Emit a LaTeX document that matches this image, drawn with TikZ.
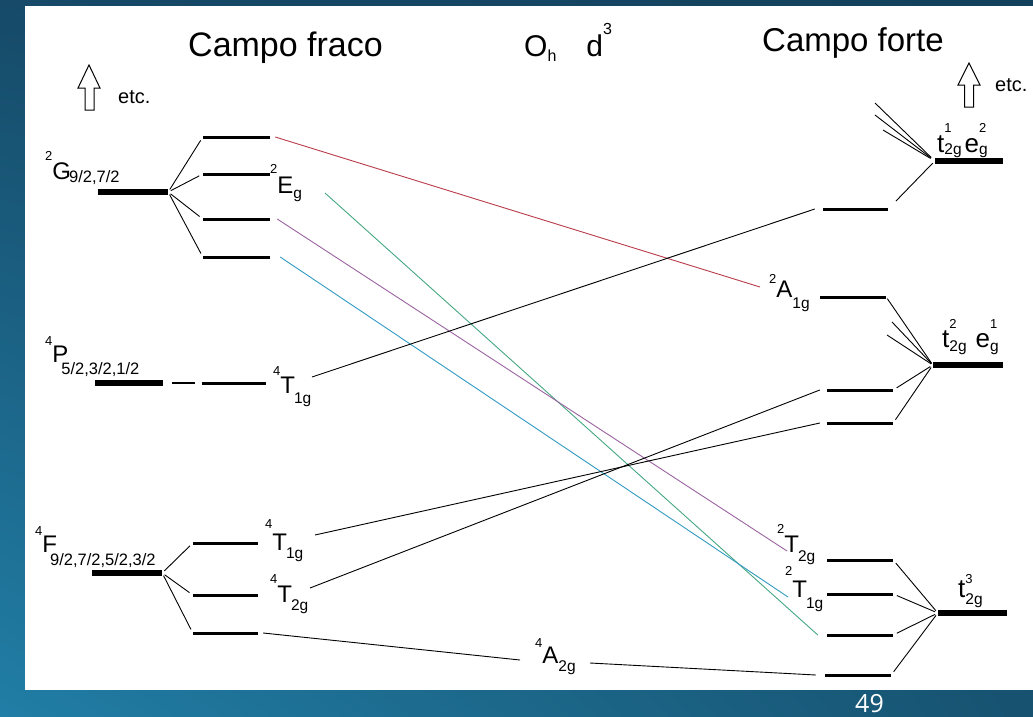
\documentclass[tikz,border=0pt]{standalone}
\usepackage{fontspec}
\usetikzlibrary{shadings}
\setmainfont{Liberation Sans}
\newfontfamily\pagenumfont{Open Sans}

\definecolor{bgA}{RGB}{22,74,104}
\definecolor{bgB}{RGB}{19,64,92}
\definecolor{bgC}{RGB}{33,126,166}
\definecolor{bgD}{RGB}{23,82,112}
\definecolor{corrred}{RGB}{185,60,75}
\definecolor{corrpurple}{RGB}{155,100,160}
\definecolor{corrgreen}{RGB}{70,168,130}
\definecolor{corrcyan}{RGB}{50,155,195}

\newcommand{\supf}{\fontsize{13}{13}\selectfont}
\newcommand{\jsubf}{\fontsize{16.5}{16.5}\selectfont}
\newcommand{\gsubf}{\fontsize{15.5}{15.5}\selectfont}
% term symbol: #1 raise of multiplicity, #2 drop of subscript, #3 multiplicity, #4 letter, #5 subscript, #6 kern
\newcommand{\trm}[6]{\raisebox{#1pt}{\supf #3}#4\kern#6pt\raisebox{-#2pt}{\gsubf #5}}
% free-ion term with J values
\newcommand{\jtrm}[6]{\raisebox{#1pt}{\supf #3}#4\kern#6pt\raisebox{-#2pt}{\jsubf #5}}
% stacked super/subscript for configurations
\newcommand{\stk}[4]{\rlap{\raisebox{#1pt}{\supf #3}}\raisebox{-#2pt}{\gsubf #4}}

\begin{document}
\begin{tikzpicture}[x=1pt,y=-1pt,
  lvl/.style={fill=black, inner sep=0pt, minimum height=3pt, rectangle},
  thk/.style={lvl, minimum height=5.5pt},
  fan/.style={line width=0.9pt},
  corr/.style={line width=0.9pt},
  lab/.style={inner sep=0pt, anchor=base west, font=\fontsize{24}{24}\selectfont},
  cfg/.style={lab, font=\fontsize{26}{26}\selectfont},
  ttl/.style={inner sep=0pt, anchor=base west},
  etcl/.style={inner sep=0pt, anchor=base west, font=\fontsize{20}{20}\selectfont},
  blockarrow/.style={line width=1pt, fill=white}]

\useasboundingbox (0,0) rectangle (1033,717);
% slide frame
\shade[upper left=bgA, upper right=bgB, lower left=bgC, lower right=bgD] (0,0) rectangle (1033,717);
\fill[white] (25,6) rectangle (1033,690);
\node[font=\pagenumfont\fontsize{25}{25}\selectfont, text=white, inner sep=0pt, anchor=base] (pg) at (869.5,712) {49};

% titles
\node[ttl, font=\fontsize{34}{34}\selectfont] (tweak) at (188,57) {Campo fraco};
\node[ttl, font=\fontsize{33}{33}\selectfont] (tstrong) at (762,52) {Campo forte};
\node[ttl, font=\fontsize{30}{30}\selectfont] (tsym) at (524,57)
  {O\raisebox{-5pt}{\fontsize{16}{16}\selectfont h}\kern30pt d\raisebox{22pt}{\fontsize{16}{16}\selectfont 3}};

% "etc." hollow arrows
\draw[blockarrow] (89,65) -- (100,88) -- (94,88) -- (94,110) -- (85,110) -- (85,88) -- (78,88) -- cycle;
\node[etcl] (etcL) at (118,103) {etc.};
\draw[blockarrow] (969,63) -- (980,85) -- (973.5,85) -- (973.5,107) -- (964.5,107) -- (964.5,85) -- (958,85) -- cycle;
\node[etcl] (etcR) at (995,92) {etc.};

% weak-field free-ion terms and their splitting
\node[thk, minimum width=70pt] (G) at (133,192) {};
\node[lvl, minimum width=67pt] (g1) at (236.5,137) {};
\node[lvl, minimum width=67pt] (g2) at (236.5,174) {};
\node[lvl, minimum width=67pt] (g3) at (236.5,219) {};
\node[lvl, minimum width=67pt] (g4) at (236.5,257) {};

\node[thk, minimum width=68pt] (P) at (129,383) {};
\node[lvl, minimum width=23pt, minimum height=1.2pt] (pd) at (183.5,383) {};
\node[lvl, minimum width=64pt] (p1) at (234,383) {};

\node[thk, minimum width=70pt] (F) at (127,573) {};
\node[lvl, minimum width=65pt] (f1) at (225.5,543) {};
\node[lvl, minimum width=65pt] (f2) at (225.5,595) {};
\node[lvl, minimum width=65pt] (f3) at (225.5,633) {};

\foreach \n in {g1,g2,g3,g4}
  \draw[fan, shorten <=3pt, shorten >=4pt] (G.east) -- (\n.west);
\foreach \n in {f1,f2,f3}
  \draw[fan, shorten <=3pt, shorten >=4pt] (F.east) -- (\n.west);

% strong-field configurations and their states
\node[thk, minimum width=68pt] (U) at (969,161) {};
\node[lvl, minimum width=65pt] (u1) at (855.5,209) {};
\node[lvl, minimum width=66pt] (A) at (853,297) {};
\node[thk, minimum width=70pt] (M) at (968,365) {};
\node[lvl, minimum width=66pt] (m1) at (860,390) {};
\node[lvl, minimum width=66pt] (m2) at (860,423) {};
\node[thk, minimum width=69pt] (T) at (972.5,613) {};
\node[lvl, minimum width=66pt] (t1) at (860,560) {};
\node[lvl, minimum width=66pt] (t2) at (860,594) {};
\node[lvl, minimum width=66pt] (t3) at (860,635) {};
\node[lvl, minimum width=66pt] (t4) at (858,675) {};

\coordinate (ua) at (875,103);
\coordinate (ub) at (875,115);
\coordinate (uc) at (883,130);
\coordinate (ma) at (892,322);
\coordinate (mb) at (887,335);

\draw[fan, shorten <=11pt, shorten >=3pt] (u1.east) -- (U.west);
\foreach \c in {ua,ub,uc}
  \draw[fan, shorten >=5pt] (\c) -- (U.west);
\draw[fan, shorten <=2pt, shorten >=2pt] (A.east) -- (M.west);
\foreach \c in {ma,mb}
  \draw[fan, shorten >=2pt] (\c) -- (M.west);
\foreach \n in {m1,m2}
  \draw[fan, shorten <=4pt, shorten >=3pt] (\n.east) -- (M.west);
\foreach \n in {t1,t2,t3,t4}
  \draw[fan, shorten <=4pt, shorten >=3pt] (\n.east) -- (T.west);

% term labels
\node[lab] (lG) at (45,179) {\jtrm{19}{3}{2}{G}{9/2,7/2}{-2}};
\node[lab] (lP) at (45,362) {\jtrm{17}{12}{4}{P}{5/2,3/2,1/2}{-7}};
\node[lab] (lF) at (35,552) {\jtrm{17}{13}{4}{F}{9/2,7/2,5/2,3/2}{-7}};
\node[lab] (lE) at (270,193) {\trm{20}{5}{2}{E}{g}{0}};
\node[lab] (lT1) at (273,393) {\trm{18}{10}{4}{T}{1g}{-1}};
\node[lab] (lT2) at (265,550) {\trm{22}{8}{4}{T}{1g}{-1}};
\node[lab] (lT3) at (270,602) {\trm{19}{8}{4}{T}{2g}{-1}};
\node[lab] (lA1) at (769,297) {\trm{14}{11}{2}{A}{1g}{0}};
\node[lab] (lT4) at (777,552) {\trm{19}{9}{2}{T}{2g}{-1}};
\node[lab] (lT5) at (785,597) {\trm{22}{11}{2}{T}{1g}{-1}};
\node[lab] (lA2) at (535,663) {\trm{16}{8}{4}{A}{2g}{0}};

\node[cfg] (lU) at (937,152) {t\stk{20}{2}{1}{2g}\kern3pt e\stk{20}{2}{2}{g}};
\node[cfg] (lM) at (942,347) {t\stk{19}{4}{2}{2g}\kern9pt e\stk{19}{4}{1}{g}};
\node[cfg] (lT) at (958,597) {t\stk{14}{7}{3}{2g}};

% correlation lines
\coordinate (eg) at (325,193);
\coordinate (redend) at (760,287);
\coordinate (purend) at (787,551);
\coordinate (cyanend) at (788,597);
\coordinate (pt1) at (312,377);
\coordinate (ft1) at (315,535);
\coordinate (ft2) at (310,588);
\coordinate (a2in) at (520,660);
\coordinate (a2out) at (590,663);

\draw[corr, corrred] ([xshift=5pt]g1.east) -- (redend);
\draw[corr, corrgreen] (eg) -- ([xshift=-9pt]t3.west);
\draw[corr, corrpurple] ([xshift=7pt]g3.east) -- (purend);
\draw[corr, corrcyan] ([xshift=10pt]g4.east) -- (cyanend);
\draw[corr] (pt1) -- ([xshift=-8pt]u1.west);
\draw[corr] (ft1) -- ([xshift=-7pt]m2.west);
\draw[corr] (ft2) -- ([xshift=-7pt]m1.west);
\draw[corr] ([xshift=5pt]f3.east) -- (a2in);
\draw[corr] (a2out) -- ([xshift=-9pt]t4.west);
\end{tikzpicture}
\end{document}
